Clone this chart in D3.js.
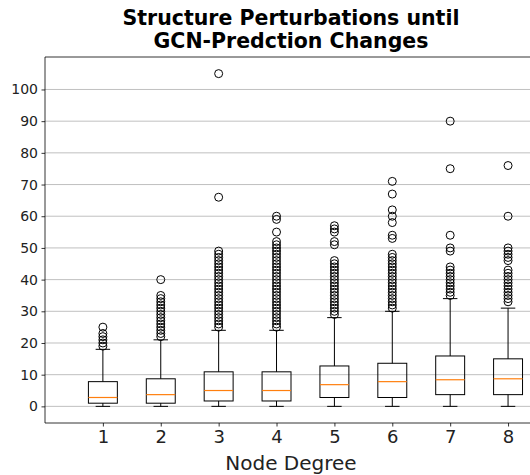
<!DOCTYPE html>
<html><head><meta charset="utf-8">
<script src="https://cdn.jsdelivr.net/npm/d3@7"></script>
<style>body{margin:0;background:#fff}svg{display:block;font-family:"DejaVu Sans",sans-serif}</style>
</head><body><svg id="c" width="530" height="475"></svg>
<script>
const categories = ["1","2","3","4","5","6","7","8"];
const q1 =      [1, 1, 1.7, 1.7, 2.8, 2.8, 3.7, 3.7];
const medians = [2.8, 3.7, 5, 5, 6.85, 7.8, 8.4, 8.7];
const q3 =      [7.8, 8.7, 10.9, 10.9, 12.75, 13.6, 15.9, 15.0];
const whiskLo = [0, 0, 0, 0, 0, 0, 0, 0];
const whiskHi = [18, 21, 24, 24, 28, 30, 34, 31];
const outliers = [
  [19,20,21,22,23,25],
  [22,23,24,25,26,27,28,29,30,31,32,33,34,35,40],
  [25,26,27,28,29,30,31,32,33,34,35,36,37,38,39,40,41,42,43,44,45,46,47,48,49,66,105],
  [25,26,27,28,29,30,31,32,33,34,35,36,37,38,39,40,41,42,43,44,45,46,47,48,49,50,51,52,55,59,60],
  [29,30,31,32,33,34,35,36,37,38,39,40,41,42,43,44,45,46,51,52,55,56,57],
  [31,32,33,34,35,36,37,38,39,40,41,42,43,44,45,46,47,48,53,54,58,60,62,67,71],
  [35,36,37,38,39,40,41,42,43,44,49,50,54,75,90],
  [33,34,35,36,37,38,39,40,41,42,43,46,47,48,49,50,60,76]
];
const yTicks = [0,10,20,30,40,50,60,70,80,90,100];
const title = ["Structure Perturbations until","GCN-Predction Changes"];
const xLabel = "Node Degree";

const svg = d3.select("#c");
const L = 45, R = 537, T = 57, B = 423;
const x = d3.scaleLinear().domain([0, 8.5]).range([L, R]);
const y = d3.scaleLinear().domain([-5.25, 110.25]).range([B, T]);

// grid
svg.append("g").selectAll("line").data(yTicks).join("line")
  .attr("x1", L).attr("x2", R).attr("y1", d => y(d)).attr("y2", d => y(d))
  .attr("stroke", "#b0b0b0").attr("stroke-width", 0.8);

// y axis
const ya = svg.append("g").attr("transform", `translate(${L},0)`)
  .call(d3.axisLeft(y).tickValues(yTicks).tickSize(3.5).tickPadding(3.5));
ya.select(".domain").remove();
ya.selectAll("text").attr("font-size", 14).attr("fill", "#222").attr("font-family", "DejaVu Sans");
ya.selectAll("line").attr("stroke", "#000").attr("stroke-width", 0.8);

// x axis
const xa = svg.append("g").attr("transform", `translate(0,${B})`)
  .call(d3.axisBottom(x).tickValues(categories.map(Number)).tickFormat((d,i)=>categories[i]).tickSize(3.5).tickPadding(3.5));
xa.select(".domain").remove();
xa.selectAll("text").attr("font-size", 18).attr("fill", "#222").attr("font-family", "DejaVu Sans");
xa.selectAll("line").attr("stroke", "#000").attr("stroke-width", 0.8);

// spines
svg.append("line").attr("x1", L).attr("x2", L).attr("y1", T).attr("y2", B).attr("stroke", "#000").attr("stroke-width", 0.8);
svg.append("line").attr("x1", L).attr("x2", R).attr("y1", B).attr("y2", B).attr("stroke", "#000").attr("stroke-width", 0.8);
svg.append("line").attr("x1", L).attr("x2", R).attr("y1", T).attr("y2", T).attr("stroke", "#000").attr("stroke-width", 0.8);
svg.append("line").attr("x1", R).attr("x2", R).attr("y1", T).attr("y2", B).attr("stroke", "#000").attr("stroke-width", 0.8);

const bw = x(0.25) - x(0);   // half box width
const cw = x(0.125) - x(0);  // half cap width
const g = svg.append("g");
categories.forEach((c, i) => {
  const cx = x(+c);
  const gg = g.append("g");
  gg.append("line").attr("x1", cx).attr("x2", cx).attr("y1", y(q1[i])).attr("y2", y(whiskLo[i])).attr("stroke", "#000");
  gg.append("line").attr("x1", cx).attr("x2", cx).attr("y1", y(q3[i])).attr("y2", y(whiskHi[i])).attr("stroke", "#000");
  gg.append("line").attr("x1", cx - cw).attr("x2", cx + cw).attr("y1", y(whiskLo[i])).attr("y2", y(whiskLo[i])).attr("stroke", "#000");
  gg.append("line").attr("x1", cx - cw).attr("x2", cx + cw).attr("y1", y(whiskHi[i])).attr("y2", y(whiskHi[i])).attr("stroke", "#000");
  gg.append("rect").attr("x", cx - bw).attr("width", 2 * bw)
    .attr("y", y(q3[i])).attr("height", y(q1[i]) - y(q3[i]))
    .attr("fill", "none").attr("stroke", "#000");
  gg.append("line").attr("x1", cx - bw).attr("x2", cx + bw).attr("y1", y(medians[i])).attr("y2", y(medians[i]))
    .attr("stroke", "#ff7f0e").attr("stroke-width", 1.2);
  gg.selectAll("circle").data(outliers[i]).join("circle")
    .attr("cx", cx).attr("cy", d => y(d)).attr("r", 4)
    .attr("fill", "none").attr("stroke", "#000").attr("stroke-width", 1);
});

// title
svg.append("g").selectAll("text").data(title).join("text")
  .attr("x", (L + R) / 2).attr("y", (d, i) => 25 + i * 23)
  .attr("text-anchor", "middle").attr("font-size", 20.5).attr("font-weight", "bold").attr("fill", "#000")
  .text(d => d);

svg.append("text").attr("x", (L + R) / 2).attr("y", 470).attr("text-anchor", "middle")
  .attr("font-size", 20).attr("fill", "#222").text(xLabel);
</script></body></html>
